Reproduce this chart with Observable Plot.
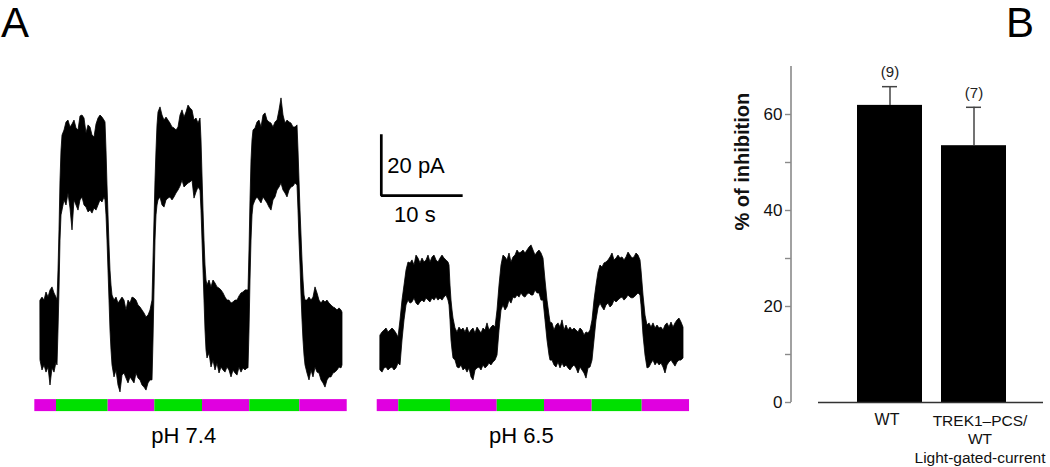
<!DOCTYPE html>
<html><head><meta charset="utf-8">
<script src="https://cdn.jsdelivr.net/npm/d3@7"></script>
<script src="https://cdn.jsdelivr.net/npm/@observablehq/plot@0.6"></script>
<style>
body{margin:0;background:#fff;}
#fig{position:relative;width:1050px;height:467px;overflow:hidden;font-family:"Liberation Sans",Arial,sans-serif;background:#fff;}
#fig > div.p{position:absolute;top:0;}
.lab{position:absolute;font-size:42px;line-height:1.05;color:#000;top:1px;}
</style></head><body>
<div id="fig">
<div id="pa" class="p" style="left:0"></div>
<div id="pb" class="p" style="left:700px"></div>
<div class="lab" style="left:1px">A</div>
<div class="lab" style="left:1006px">B</div>
</div>
<script>
// ---------- Panel A data: current traces, [time (s), upper envelope (pA), lower envelope (pA)] ----------
const trace74 = [
[0,33.3,13.3],[0.25,34.3,10.0],[0.5,33.3,11.7],[0.75,36.0,9.3],[1,34.3,11.0],[1.25,36.7,5.0],[1.5,37.7,10.7],[1.75,35.7,9.3],[2,34.3,12.7],
[2.125,33.3,11.7],[2.25,43.3,23.3],[2.375,56.7,36.7],[2.5,73.3,53.3],[2.625,83.3,61.7],[2.75,88.3,63.3],
[3,90.0,66.7],[3.25,92.7,65.0],[3.5,93.3,69.0],[3.75,91.0,64.0],[4,92.0,56.7],[4.25,93.3,66.7],[4.5,90.7,65.0],[4.75,90.0,63.3],[5,94.7,66.7],[5.25,95.0,67.7],[5.5,94.0,65.0],[5.75,89.0,64.3],[6,91.7,62.7],[6.25,91.0,63.3],[6.5,88.3,62.3],[6.75,87.7,64.0],[7,92.0,63.3],[7.25,94.0,65.0],[7.5,95.0,66.7],[7.75,94.3,66.0],[8,93.3,67.7],
[8.125,92.7,66.7],[8.25,83.3,61.7],[8.375,71.7,53.3],[8.5,61.7,43.3],[8.625,51.7,33.3],[8.75,43.3,23.3],[8.875,38.3,16.7],[9,35.0,11.7],
[9.25,33.3,7.7],[9.5,34.3,10.0],[9.75,32.3,5.0],[10,33.3,2.7],[10.25,34.3,8.3],[10.5,33.3,9.0],[10.75,30.0,7.3],[11,33.3,5.7],[11.25,32.3,7.7],[11.5,34.3,6.7],[11.75,34.0,5.7],[12,33.3,9.0],[12.25,31.7,7.3],[12.5,31.0,6.7],[12.75,30.0,5.0],[13,29.0,4.3],[13.25,27.7,3.3],[13.5,28.3,5.7],[13.75,30.0,6.7],
[14,33.3,6.7],[14.125,46.7,20.0],[14.25,60.0,36.7],[14.375,73.3,53.3],[14.5,83.3,61.7],[14.625,91.7,65.0],[14.75,96.0,66.7],
[15,97.7,67.7],[15.25,95.0,65.0],[15.5,93.3,64.3],[15.75,94.3,66.7],[16,93.3,67.3],[16.25,92.3,67.7],[16.5,91.0,66.7],[16.75,90.7,67.7],[17,90.0,69.0],[17.25,91.0,70.0],[17.5,95.0,71.3],[17.75,96.7,73.3],[18,94.3,71.0],[18.25,96.0,71.7],[18.5,98.3,72.3],[18.75,97.3,72.7],[19,96.7,73.3],[19.25,93.3,67.3],[19.5,94.0,69.3],[19.75,92.3,71.0],
[20,94.0,70.0],[20.125,86.7,63.3],[20.25,75.0,53.3],[20.375,63.3,43.3],[20.5,53.3,33.3],[20.625,45.0,23.3],[20.75,40.0,16.7],[20.875,38.3,14.0],
[21.125,40.0,15.7],[21.375,37.7,11.0],[21.625,40.0,13.3],[21.875,39.0,10.0],[22.125,37.7,12.3],[22.375,37.3,9.0],[22.625,36.7,11.0],[22.875,35.7,10.0],[23.125,34.3,9.3],[23.375,33.3,11.0],[23.625,33.3,10.0],[23.875,32.3,7.7],[24.125,32.7,10.0],[24.375,33.3,9.0],[24.625,33.3,8.3],[24.875,34.7,11.0],[25.125,35.7,9.3],[25.375,36.0,10.7],[25.625,36.7,10.0],[25.875,36.7,10.7],
[26,36.7,10.7],[26.125,50.0,23.3],[26.25,66.7,40.0],[26.375,80.0,53.3],[26.5,86.7,61.7],[26.625,90.0,65.0],
[26.875,90.7,66.7],[27.125,92.7,67.7],[27.375,93.3,66.7],[27.625,91.0,65.7],[27.875,95.0,67.7],[28.125,95.7,66.7],[28.375,93.3,65.7],[28.625,92.7,64.3],[28.875,92.3,63.3],[29.125,91.0,66.7],[29.375,92.7,67.7],[29.625,93.3,70.0],[29.875,96.7,71.0],[30.125,100.7,72.3],[30.375,95.0,70.0],[30.625,92.3,69.0],[30.875,93.3,67.7],[31.125,92.7,70.0],[31.375,92.3,71.0],[31.625,91.0,71.3],[31.875,91.0,72.3],
[32.125,91.7,71.7],[32.25,83.3,63.3],[32.375,73.3,53.3],[32.5,63.3,45.0],[32.625,55.0,35.0],[32.75,46.7,26.7],[32.875,40.0,20.0],[33,35.0,15.0],[33.125,33.3,11.7],
[33.375,33.3,9.0],[33.625,34.3,6.7],[33.875,33.3,10.0],[34.125,34.3,7.7],[34.375,37.7,11.0],[34.625,35.7,9.3],[34.875,33.3,9.0],[35.125,32.3,6.7],[35.375,33.3,5.7],[35.625,32.7,4.3],[35.875,33.3,6.7],[36.125,32.3,7.7],[36.375,31.7,7.7],[36.625,31.0,9.0],[36.875,30.7,9.3],[37.125,30.0,10.0],[37.375,30.7,11.0],[37.625,30.0,10.7],[37.75,29.3,11.7]
];
const trace65 = [
[0,21.7,10.0],[0.25,22.7,9.3],[0.5,23.3,10.7],[0.75,24.0,11.0],[1,22.7,10.0],[1.25,23.3,10.7],[1.5,24.0,11.0],[1.75,23.3,10.0],[2,22.3,10.7],[2.25,21.0,12.3],
[2.5,26.7,11.7],[2.75,33.3,20.0],[3,38.3,26.7],[3.25,43.3,31.7],[3.5,46.0,33.3],
[3.75,45.7,32.3],[4,46.7,32.7],[4.25,45.0,34.0],[4.5,48.3,32.3],[4.75,47.3,31.7],[5,45.7,32.7],[5.25,47.3,33.3],[5.5,46.0,32.7],[5.75,46.7,34.0],[6,48.3,33.3],[6.25,46.0,32.7],[6.5,47.7,34.0],[6.75,48.3,33.3],[7,46.7,34.3],[7.25,46.0,33.3],[7.5,47.3,34.0],[7.75,48.3,33.3],[8,47.3,34.3],[8.25,46.7,35.0],[8.5,46.0,33.3],
[8.625,45.0,31.7],[8.75,38.3,26.7],[8.875,33.3,20.0],[9,30.0,16.7],[9.125,27.3,14.0],
[9.375,24.0,13.3],[9.625,22.7,11.0],[9.875,24.3,10.7],[10.125,23.3,11.7],[10.375,24.0,10.0],[10.625,22.7,10.7],[10.875,24.3,9.3],[11.125,22.3,10.7],[11.375,23.3,7.7],[11.625,24.0,6.7],[11.875,22.3,10.0],[12.125,24.3,10.7],[12.375,23.3,11.0],[12.625,22.3,10.0],[12.875,24.0,11.7],[13.125,23.3,10.7],[13.375,25.7,11.3],[13.625,23.3,12.3],[13.875,24.3,11.7],[14.125,25.0,12.7],[14.375,24.3,13.3],
[14.625,30.0,15.0],[14.875,38.3,23.3],[15.125,45.0,30.0],[15.375,48.3,31.7],
[15.625,47.7,30.0],[15.875,46.7,31.0],[16.125,49.0,33.3],[16.375,46.0,32.3],[16.625,47.7,34.3],[16.875,48.3,34.0],[17.125,50.0,35.0],[17.375,49.0,34.3],[17.625,49.3,35.7],[17.875,50.0,34.7],[18.125,49.0,34.3],[18.375,50.0,35.3],[18.625,51.0,35.7],[18.875,51.7,35.0],[19.125,50.0,35.0],[19.375,48.3,36.7],[19.625,49.3,35.7],[19.875,50.0,35.7],[20.125,49.0,33.3],
[20.375,47.3,33.3],[20.625,40.0,26.7],[20.875,33.3,20.0],[21.125,28.3,15.0],[21.25,26.0,13.3],
[21.5,25.7,13.3],[21.75,23.3,11.7],[22,25.0,11.0],[22.25,25.7,12.7],[22.5,24.3,10.7],[22.75,26.7,12.3],[23,23.3,11.0],[23.25,25.0,11.7],[23.5,23.3,10.7],[23.75,24.3,10.0],[24,23.3,11.0],[24.25,24.0,11.7],[24.5,23.3,10.7],[24.75,22.7,9.0],[25,24.0,11.0],[25.25,23.3,10.0],[25.5,21.7,9.0],[25.75,22.7,7.3],[26,22.3,10.7],[26.25,23.3,11.0],
[26.5,26.7,13.3],[26.75,33.3,20.0],[27,38.3,26.7],[27.25,42.7,30.7],[27.5,45.0,32.3],
[27.75,44.3,31.0],[28,45.7,30.0],[28.25,46.0,31.7],[28.5,46.7,32.3],[28.75,47.7,31.0],[29,49.0,31.7],[29.25,46.7,33.3],[29.5,47.3,32.7],[29.75,48.3,33.3],[30,47.3,34.0],[30.25,47.7,34.3],[30.5,46.7,33.3],[30.75,47.7,34.0],[31,49.3,35.0],[31.25,48.3,34.3],[31.5,47.3,34.0],[31.75,47.7,34.3],[32,49.0,35.0],[32.25,48.3,35.7],
[32.5,46.7,35.0],[32.625,43.3,31.7],[32.875,35.0,21.7],[33.125,28.3,15.0],[33.375,25.0,10.7],
[33.625,25.7,11.0],[33.875,24.3,12.3],[34.125,25.7,13.3],[34.375,24.0,11.7],[34.625,25.0,12.7],[34.875,24.0,11.7],[35.125,24.3,12.3],[35.375,23.3,11.0],[35.625,25.0,9.0],[35.875,25.7,11.7],[36.125,24.3,12.7],[36.375,26.0,13.3],[36.625,24.3,12.3],[36.875,25.7,11.3],[37.125,26.7,12.7],[37.375,27.3,13.3],[37.625,26.0,13.3],[37.875,24.3,14.0]
];
// stimulus protocol (s): segment edges and the light of each segment
const stim74Edges = [-0.71, 2.0, 8.46, 14.29, 20.25, 26.16, 32.41, 38.34];
const stim65Edges = [-0.41, 2.29, 8.75, 14.59, 20.5, 26.46, 32.71, 38.63];
const stimKinds = ["light A", "light B", "light A", "light B", "light A", "light B", "light A"];
const stimColors = ["#e000e0", "#00e000"];
const traceNames = ["pH 7.4", "pH 6.5"];
const scaleBarPA = 20;   // pA
const scaleBarS = 10;    // s

// ---------- Panel B data ----------
const groups = ["WT", "TREK1-PCS/WT"];
const groupLabels = ["WT", "TREK1\u2013PCS/\nWT\nLight-gated-current"];
const inhibitionMean = [61.9, 53.5];
const inhibitionSem = [3.9, 8.0];
const nCells = [9, 7];
const yTicksMajor = [0, 20, 40, 60];
const yTicksMinor = [10, 30, 50];

// ---------- build tables ----------
const T65_OFFSET = 42.5; // second recording drawn to the right of the first
const toRows = (arr, off) => arr.map(([t, hi, lo]) => ({t: t + off, hi, lo}));
const rows74 = toRows(trace74, 0);
const rows65 = toRows(trace65, T65_OFFSET);
const segs = (edges, off) => stimKinds.map((k, i) => ({t1: edges[i] + off, t2: edges[i + 1] + off, kind: k}));
const stimRows = [...segs(stim74Edges, 0), ...segs(stim65Edges, T65_OFFSET)];

const FONT = '"Liberation Sans", Arial, Helvetica, sans-serif';
const STIM_TOP = 0.3, STIM_BOTTOM = -3.7;  // pA band used to draw the stimulus bar
const SB_T = 42.6, SB_I = 68.3;            // scale-bar corner

const panelA = Plot.plot({
  width: 700, height: 467,
  marginTop: 0, marginRight: 0, marginBottom: 0, marginLeft: 0,
  x: {domain: [-5, 82.5], axis: null},
  y: {domain: [-67 / 3, 400 / 3], axis: null},
  color: {domain: ["light A", "light B"], range: stimColors},
  style: {fontFamily: FONT, background: "transparent"},
  marks: [
    Plot.areaY(rows74, {x: "t", y1: "lo", y2: "hi", fill: "black", stroke: "black", strokeWidth: 0.8}),
    Plot.areaY(rows65, {x: "t", y1: "lo", y2: "hi", fill: "black", stroke: "black", strokeWidth: 0.8}),
    Plot.rect(stimRows, {x1: "t1", x2: "t2", y1: STIM_BOTTOM, y2: STIM_TOP, fill: "kind"}),
    Plot.line([{t: SB_T, i: SB_I + scaleBarPA}, {t: SB_T, i: SB_I}, {t: SB_T + scaleBarS, i: SB_I}],
      {x: "t", y: "i", stroke: "black", strokeWidth: 2.7, strokeLinejoin: "miter", strokeLinecap: "square"}),
    Plot.text([`${scaleBarPA} pA`], {x: SB_T + 0.75, y: SB_I + scaleBarPA / 2, text: d => d, textAnchor: "start", fontSize: 22, fill: "black"}),
    Plot.text([`${scaleBarS} s`], {x: SB_T + 4.2, y: SB_I - 6.3, text: d => d, fontSize: 22, fill: "black"}),
    Plot.text([{t: 17.9, s: traceNames[0]}, {t: 17.6 + T65_OFFSET, s: traceNames[1]}],
      {x: "t", y: -11.8, text: "s", fontSize: 22, fill: "black"})
  ]
});
document.getElementById("pa").appendChild(panelA);

const barRows = groups.map((g, i) => ({group: g, label: groupLabels[i], mean: inhibitionMean[i], sem: inhibitionSem[i], n: nCells[i]}));
const AXIS_GREY = "#8a8a8a";
function yAxisLine(index, scales, values, dimensions) {
  const l = document.createElementNS("http://www.w3.org/2000/svg", "line");
  l.setAttribute("x1", dimensions.marginLeft);
  l.setAttribute("x2", dimensions.marginLeft);
  l.setAttribute("y1", scales.y(0));
  l.setAttribute("y2", scales.y(70));
  l.setAttribute("stroke", AXIS_GREY);
  l.setAttribute("stroke-width", 1.6);
  return l;
}

const panelB = Plot.plot({
  width: 350, height: 467,
  marginTop: 66, marginRight: 7, marginBottom: 65, marginLeft: 91,
  x: {domain: groups, range: [147.5, 315.5], paddingInner: 0.2262, paddingOuter: 0.1131, axis: null},
  y: {domain: [0, 70], axis: null},
  style: {fontFamily: FONT, background: "transparent"},
  marks: [
    Plot.barY(barRows, {x: "group", y: "mean", fill: "black"}),
    Plot.ruleX(barRows, {x: "group", y1: "mean", y2: d => d.mean + d.sem, stroke: "#444", strokeWidth: 1.5}),
    Plot.tickY(barRows, {x: "group", y: d => d.mean + d.sem, insetLeft: 25, insetRight: 25, stroke: "#444", strokeWidth: 1.5}),
    Plot.text(barRows, {x: "group", y: d => d.mean + d.sem, text: d => `(${d.n})`, dy: -14, fontSize: 15, fill: "#222"}),
    Plot.ruleY([0], {insetLeft: 27, stroke: "#333", strokeWidth: 1.4}),
    yAxisLine,
    Plot.axisY({ticks: [...yTicksMajor, ...yTicksMinor], tickFormat: () => "", tickSize: 6, stroke: AXIS_GREY, strokeWidth: 1.4, label: null}),
    Plot.axisY({ticks: yTicksMajor, tickSize: 0, tickPadding: 9, fontSize: 17, fill: "#111", label: null}),
    Plot.text([barRows[0]], {x: "group", y: 0, text: "label", dx: -3, dy: 11, lineAnchor: "top", fontSize: 16, fill: "#111"}),
    Plot.text([barRows[1]], {x: "group", y: 0, text: "label", dx: 6, dy: 10, lineAnchor: "top", lineHeight: 1.2, fontSize: 15.5, fill: "#111"}),
    Plot.text(["% of inhibition"], {frameAnchor: "left", text: d => d, rotate: -90, dx: -49, dy: -4, fontSize: 20, fontWeight: "bold", fill: "#111"})
  ]
});
document.getElementById("pb").appendChild(panelB);
</script>
</body></html>
